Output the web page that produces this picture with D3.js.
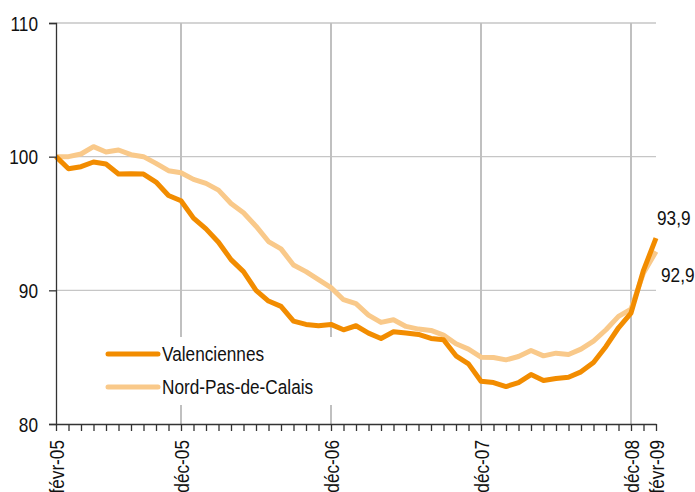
<!DOCTYPE html>
<html><head><meta charset="utf-8">
<script src="https://cdn.jsdelivr.net/npm/d3@7"></script>
<style>body{margin:0;background:#fff;}svg{display:block;}svg text{font-family:"Liberation Sans",Arial,sans-serif;}</style>
</head><body><svg id="c" width="695" height="492"></svg>
<script>
const months = ["févr-05","mars-05","avr-05","mai-05","juin-05","juil-05","août-05","sept-05","oct-05","nov-05","déc-05",
"janv-06","févr-06","mars-06","avr-06","mai-06","juin-06","juil-06","août-06","sept-06","oct-06","nov-06","déc-06",
"janv-07","févr-07","mars-07","avr-07","mai-07","juin-07","juil-07","août-07","sept-07","oct-07","nov-07","déc-07",
"janv-08","févr-08","mars-08","avr-08","mai-08","juin-08","juil-08","août-08","sept-08","oct-08","nov-08","déc-08",
"janv-09","févr-09"];
const valenciennes = [100.0,99.1,99.25,99.6,99.45,98.7,98.72,98.7,98.1,97.1,96.7,
95.4,94.6,93.6,92.3,91.4,90.0,89.2,88.8,87.7,87.45,87.35,87.45,
87.05,87.35,86.8,86.4,86.9,86.8,86.7,86.4,86.3,85.1,84.5,83.2,
83.1,82.8,83.1,83.7,83.25,83.4,83.5,83.9,84.6,85.8,87.2,88.3,
91.5,93.9];
const nordPasDeCalais = [100.0,100.0,100.2,100.75,100.35,100.5,100.15,100.0,99.5,98.95,98.8,
98.3,98.0,97.5,96.5,95.8,94.8,93.65,93.1,91.9,91.4,90.8,90.2,
89.3,89.0,88.15,87.6,87.8,87.3,87.1,87.0,86.65,86.0,85.6,85.0,
84.98,84.8,85.05,85.5,85.1,85.3,85.2,85.6,86.2,87.05,88.05,88.6,
91.3,92.9];
const seriesNames = ["Valenciennes","Nord-Pas-de-Calais"];
const yTicks = [80,90,100,110];
const xLabelMonths = ["févr-05","déc-05","déc-06","déc-07","déc-08","févr-09"];
const gridMonths = ["déc-05","déc-06","déc-07","déc-08"];
const endLabels = ["93,9","92,9"];

const colors = ["#F28C00","#F9C98A"];
const FS = 20.5, SX = 0.84;
const svg = d3.select("#c");
const L = 56, R = 656, T = 23, B = 424;
const x = d3.scalePoint().domain(months).range([L,R]);
const y = d3.scaleLinear().domain([80,110]).range([B,T]);

function narrowText(sel, tx, ty, anchor, pre) {
  return sel.attr("x",0).attr("y",0).attr("dy","0.35em").attr("font-size",FS).attr("fill","#111")
    .attr("text-anchor",anchor||"start")
    .attr("transform",`${pre||""} translate(${tx},${ty}) scale(${SX},1)`);
}

// horizontal grid
svg.append("g").selectAll("line").data(yTicks.filter(d=>d>80)).join("line")
  .attr("x1",L).attr("x2",R).attr("y1",d=>y(d)).attr("y2",d=>y(d))
  .attr("stroke","#c6c6c6").attr("stroke-width",1.3);
// vertical grid
svg.append("g").selectAll("line").data(gridMonths).join("line")
  .attr("x1",d=>x(d)).attr("x2",d=>x(d)).attr("y1",T).attr("y2",B)
  .attr("stroke","#c0c0c0").attr("stroke-width",2);

// legend background (covers gridlines)
svg.append("rect").attr("x",100).attr("y",337).attr("width",240).attr("height",68).attr("fill","#fff");

// lines
const line = d3.line().x((d,i)=>x(months[i])).y(d=>y(d));
[nordPasDeCalais, valenciennes].forEach((s,k)=>{
  svg.append("path").datum(s).attr("d",line).attr("fill","none")
    .attr("stroke",colors[1-k]).attr("stroke-width",5).attr("stroke-linejoin","round");
});

// y axis
const yAxis = d3.axisLeft(y).tickValues(yTicks).tickSize(7).tickFormat(d3.format("d"));
const gy = svg.append("g").attr("transform",`translate(${L},0)`).call(yAxis).attr("font-family",null);
gy.select(".domain").attr("stroke","#333").attr("stroke-width",1.3);
gy.selectAll(".tick line").attr("stroke","#333").attr("stroke-width",1.3);
narrowText(gy.selectAll(".tick text"), -18, 0, "end");

// x axis
const xAxis = d3.axisBottom(x).tickSize(7).tickSizeOuter(0).tickFormat(d=>xLabelMonths.includes(d)?d:"");
const gx = svg.append("g").attr("transform",`translate(0,${B})`).call(xAxis).attr("font-family",null);
gx.select(".domain").attr("stroke","#333").attr("stroke-width",1.3);
gx.selectAll(".tick line").attr("stroke","#333").attr("stroke-width",1.3);
narrowText(gx.selectAll(".tick text"), -16, 0, "end", "rotate(-90)");

// end labels
narrowText(svg.append("text").text(endLabels[0]), 657, y(valenciennes[48])-20, "start");
narrowText(svg.append("text").text(endLabels[1]), 661, y(nordPasDeCalais[48])+23, "start");

// legend
const lg = svg.append("g");
seriesNames.forEach((n,k)=>{
  const yy = 354 + k*33;
  lg.append("line").attr("x1",108).attr("x2",158).attr("y1",yy).attr("y2",yy)
    .attr("stroke",colors[k]).attr("stroke-width",5).attr("stroke-linecap","round");
  narrowText(lg.append("text").text(n), 162, yy, "start");
});
</script></body></html>
